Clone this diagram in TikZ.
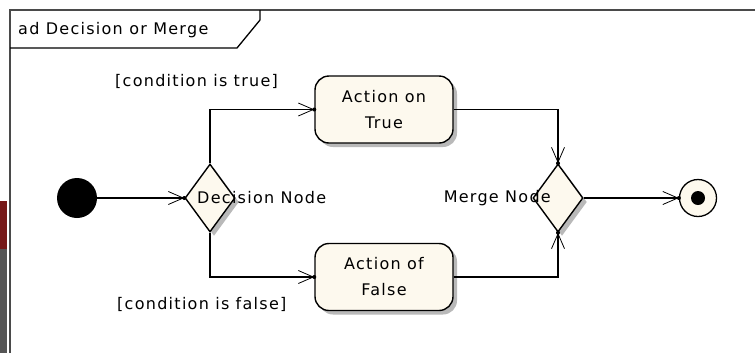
\documentclass[tikz,border=0pt]{standalone}
\usepackage{fontspec}
\setmainfont{DejaVu Sans}[LetterSpace=8]
\usetikzlibrary{arrows.meta,shapes.geometric,shadows}
\definecolor{cream}{HTML}{FDF9EE}
\definecolor{framegray}{HTML}{4A4A4A}
\definecolor{stripred}{HTML}{761919}
\definecolor{stripgray}{HTML}{555555}
\tikzset{
  lbl/.style={font=\fontsize{16bp}{26bp}\selectfont, inner sep=0pt, text=black},
  actbox/.style={lbl, draw=black, line width=1.4bp, fill=cream, rounded corners=14bp,
    minimum width=138bp, minimum height=67bp, align=center,
    general shadow={fill=gray!55, shadow xshift=4bp, shadow yshift=-4bp}},
  dmd/.style={diamond, draw=black, line width=1.4bp, fill=cream, inner sep=0pt,
    minimum width=50bp, minimum height=68bp,
    general shadow={fill=gray!55, shadow xshift=4bp, shadow yshift=-4bp}},
  flow/.style={draw=black, line width=1.4bp,
    -{Straight Barb[length=15bp,width=13bp,line width=0.8bp]}},
  tipdot/.style={fill=black},
}
\begin{document}
\begin{tikzpicture}[x=1bp,y=-1bp]
\useasboundingbox (0,0) rectangle (755,353);
% left strip
\fill[stripred] (0,201) rectangle (7,249);
\fill[stripgray] (0,249) rectangle (7,353);
% frame
\draw[framegray, line width=2.2bp] (10,353) -- (10,10) -- (755,10);
\draw[black, line width=1.3bp] (10,48) -- (237,48) -- (260,20) -- (260,10);
\node[lbl, anchor=west] (title) at (18,30) {ad Decision or Merge};
% nodes
\fill[black] (77,198) circle[radius=20];
\node[circle, minimum size=40bp, inner sep=0pt] (init) at (77,198) {};
\node[dmd] (dec) at (210,198) {};
\node[dmd] (merge) at (558,198) {};
\node[actbox] (atrue) at (384,109.5) {Action on\\True};
\node[actbox] (afalse) at (384,277) {Action of\\False};
\node[circle, draw=black, line width=1.3bp, fill=cream, minimum size=37bp, inner sep=0pt] (final) at (698,198) {};
\fill[black] (final.center) circle[radius=7];
% labels
\node[lbl, anchor=west] (declbl) at (197,198) {Decision Node};
\node[lbl, anchor=east] (mergelbl) at (551,198) {Merge Node};
\node[lbl, anchor=west] (ctrue) at (115,81) {[condition is true]};
\node[lbl, anchor=west] (cfalse) at (117,304) {[condition is false]};
% connectors
\draw[flow] (init.east) -- (dec.west);
\draw[flow] (dec.north) |- (atrue.west);
\draw[flow] (dec.south) |- (afalse.west);
\draw[flow] (atrue.east) -| (merge.north);
\draw[flow] (afalse.east) -| (merge.south);
\draw[flow] (merge.east) -- (final.west);
% tip dots
\fill[tipdot] (dec.west) circle[radius=2];
\fill[tipdot] (atrue.west) circle[radius=2];
\fill[tipdot] (afalse.west) circle[radius=2];
\fill[tipdot] (merge.north) circle[radius=2];
\fill[tipdot] (merge.south) circle[radius=2];
\fill[tipdot] (final.west) circle[radius=2];
\end{tikzpicture}
\end{document}
